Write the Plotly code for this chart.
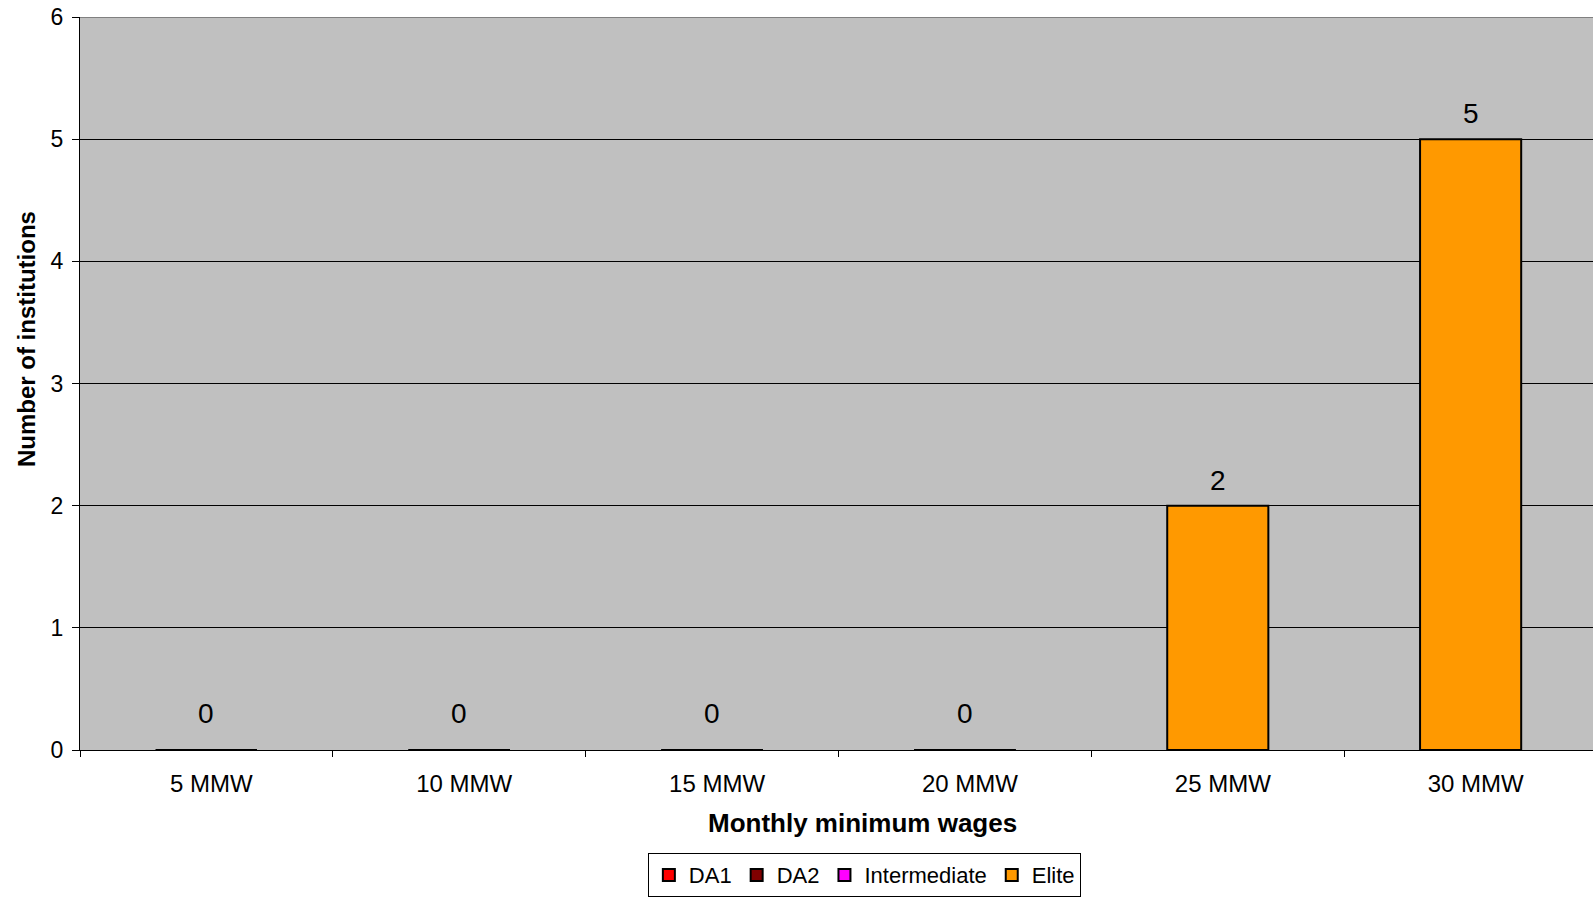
import plotly.graph_objects as go

# Wage brackets (in monthly minimum wages) and institution counts per group
categories = ["5 MMW", "10 MMW", "15 MMW", "20 MMW", "25 MMW", "30 MMW"]
da1 = [0, 0, 0, 0, 0, 0]
da2 = [0, 0, 0, 0, 0, 0]
intermediate = [0, 0, 0, 0, 0, 0]
elite = [0, 0, 0, 0, 2, 5]
y_ticks = [0, 1, 2, 3, 4, 5, 6]

FONT = "Liberation Sans, Arial, sans-serif"

series = [
    ("DA1", da1, "#FF0000"),
    ("DA2", da2, "#800000"),
    ("Intermediate", intermediate, "#FF00FF"),
    ("Elite", elite, "#FF9900"),
]

fig = go.Figure()
for name, vals, color in series:
    fig.add_trace(go.Bar(
        x=categories, y=vals, name=name, width=0.4,
        marker=dict(color=color, line=dict(color="#000000", width=2)),
        hoverinfo="x+y+name",
    ))

# Value labels above the Elite bars
annotations = []
for cat, v in zip(categories, elite):
    annotations.append(dict(
        x=cat, y=v, xref="x", yref="y", text=str(v), showarrow=False,
        yanchor="bottom", yshift=19 if v == 0 else 8,
        font=dict(family=FONT, size=28, color="#000000"),
    ))

# Axis titles
annotations.append(dict(
    x=0.5175, y=-0.099, xref="paper", yref="paper", text="<b>Monthly minimum wages</b>",
    showarrow=False, xanchor="center", yanchor="middle",
    font=dict(family=FONT, size=26, color="#000000"),
))
annotations.append(dict(
    x=-0.0355, y=0.561, xref="paper", yref="paper", text="<b>Number of institutions</b>",
    showarrow=False, textangle=-90, xanchor="center", yanchor="middle",
    font=dict(family=FONT, size=24, color="#000000"),
))

fig.update_layout(
    width=1593, height=898,
    margin=dict(l=80, r=0, t=17, b=148, autoexpand=False),
    paper_bgcolor="#FFFFFF", plot_bgcolor="#C0C0C0",
    barmode="overlay",
    font=dict(family=FONT, size=22, color="#000000"),
    showlegend=True,
    legend=dict(
        orientation="h", xref="container", yref="container",
        x=0.5426, xanchor="center", y=0.001, yanchor="bottom",
        bordercolor="#000000", borderwidth=1, bgcolor="#FFFFFF",
        font=dict(family=FONT, size=22, color="#000000"),
        itemwidth=30, tracegroupgap=0,
    ),
    annotations=annotations,
    shapes=[dict(type="line", xref="paper", yref="y", x0=0, x1=1, y0=6, y1=6,
                 line=dict(color="#808080", width=2))],
)

fig.update_xaxes(
    type="category", range=[-0.5, 5.484],
    showline=True, linecolor="#000000", linewidth=1,
    ticks="outside", tickson="boundaries", ticklen=6, tickcolor="#000000",
    showgrid=False, zeroline=False,
    tickfont=dict(family=FONT, size=24), ticklabelstandoff=12, ticklabelshift=5,
)
fig.update_yaxes(
    range=[0, 6], tickvals=y_ticks,
    showline=True, linecolor="#000000", linewidth=1,
    ticks="outside", ticklen=7, tickcolor="#000000",
    showgrid=True, gridcolor="#000000", gridwidth=1, zeroline=False,
    tickfont=dict(family=FONT, size=23), ticklabelstandoff=4,
)

fig.write_html("out.html")
